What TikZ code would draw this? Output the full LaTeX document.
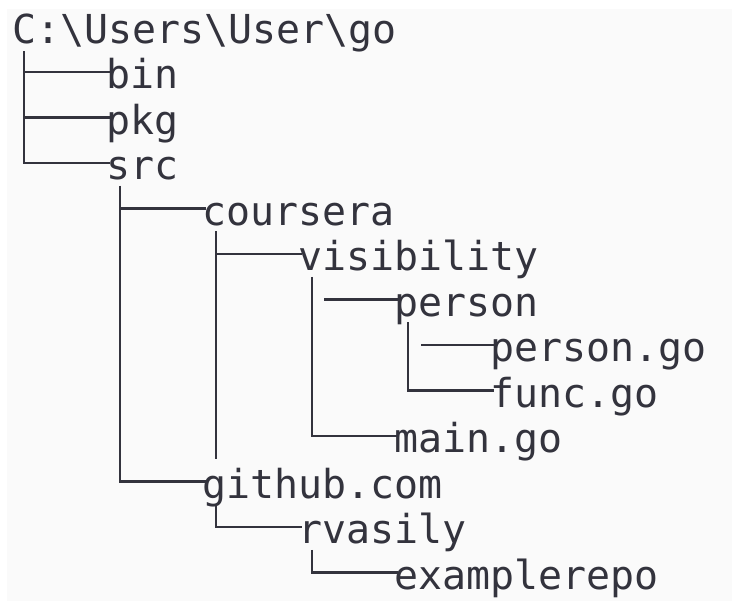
\documentclass[tikz,border=0pt]{standalone}
\usepackage{fontspec}
\newfontfamily\treefont{DejaVu Sans Mono}
\definecolor{ink}{HTML}{33333D}
\definecolor{bgpanel}{HTML}{FAFAFA}
\begin{document}
\begin{tikzpicture}[x=1pt,y=-1pt,
  entry/.style={anchor=west,inner sep=0pt,text height=34pt,text depth=0pt,
    font=\treefont\fontsize{39.9}{45}\selectfont,text=ink},
  branch/.style={draw=ink,line width=2.2pt}]
\useasboundingbox (0,0) rectangle (732,601);
\fill[white] (0,0) rectangle (732,601);
\fill[bgpanel] (7,9) rectangle (732,601);

\node[entry] (root) at (12,26.5) {C:\textbackslash Users\textbackslash User\textbackslash go};
\node[entry] (bin) at (106,72) {bin};
\node[entry] (pkg) at (106,117.5) {pkg};
\node[entry] (src) at (106,163) {src};
\node[entry] (coursera) at (202,208.5) {coursera};
\node[entry] (visibility) at (298,254) {visibility};
\node[entry] (person) at (394,299.5) {person};
\node[entry] (persongo) at (490,345) {person.go};
\node[entry] (funcgo) at (490,390.5) {func.go};
\node[entry] (maingo) at (394,436) {main.go};
\node[entry] (github) at (202,481.5) {github.com};
\node[entry] (rvasily) at (298,527) {rvasily};
\node[entry] (examplerepo) at (394,572.5) {examplerepo};

% root
\foreach \c in {bin,pkg,src}
  \draw[branch] ([shift={(12,25)}]root.west) |- ([xshift=3.5pt]\c.west);
% src
\foreach \c in {coursera,github}
  \draw[branch] ([shift={(14,23)}]src.west) |- ([xshift=3.5pt]\c.west);
% coursera
\coordinate (cv) at ([shift={(14,23)}]coursera.west);
\coordinate (mb) at ([yshift=-23pt]maingo.west);
\draw[branch] (cv) -- (cv |- mb);
\draw[branch] (cv |- visibility.west) -- ([xshift=3.5pt]visibility.west);
% visibility
\coordinate (vv) at ([shift={(14,23)}]visibility.west);
\draw[branch] (vv) |- ([xshift=3.5pt]maingo.west);
\coordinate (vh) at ([xshift=26pt]visibility.west);
\draw[branch] (vh |- person.west) -- ([xshift=3.5pt]person.west);
% person
\coordinate (pv) at ([shift={(14,23)}]person.west);
\draw[branch] (pv) |- ([xshift=3.5pt]funcgo.west);
\coordinate (ph) at ([xshift=27pt]person.west);
\draw[branch] (ph |- persongo.west) -- ([xshift=3.5pt]persongo.west);
% github
\draw[branch] ([shift={(14,23)}]github.west) |- ([xshift=3.5pt]rvasily.west);
% rvasily
\draw[branch] ([shift={(14,23)}]rvasily.west) |- ([xshift=3.5pt]examplerepo.west);
\end{tikzpicture}
\end{document}
